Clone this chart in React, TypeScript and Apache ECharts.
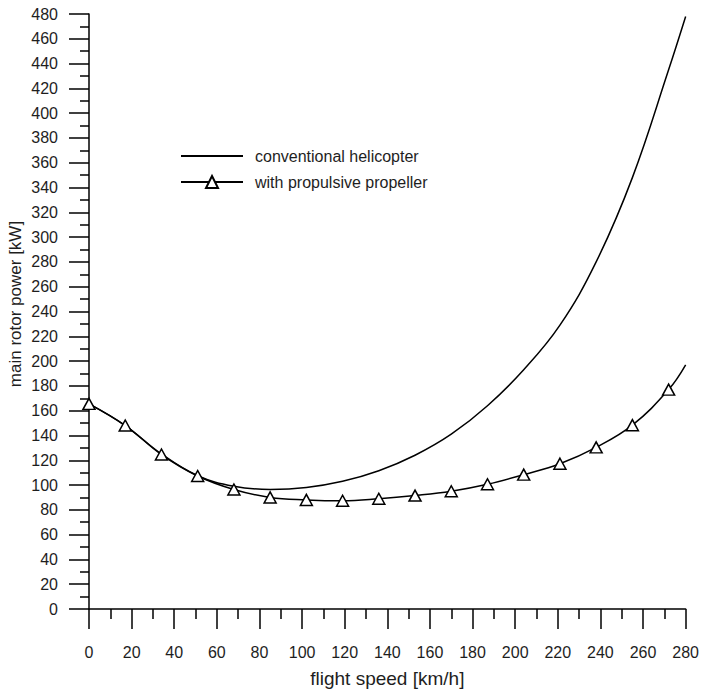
import React, { useEffect, useRef } from "react";
import * as echarts from "echarts";

const speeds = [0, 17, 34, 51, 68, 85, 102, 119, 136, 153, 170, 187, 204, 221, 238, 255, 272, 280];
const conventional = [165.5, 148, 125, 107.5, 99, 96.5, 98, 103, 111.5, 124, 141, 164, 193, 229, 280, 348, 435, 478];
const propeller = [165.5, 148, 124.6, 107.3, 96.4, 90, 88, 87.3, 88.9, 91.5, 95, 100.6, 108.4, 117.2, 130.4, 148.3, 177, 197];
// points where the propeller curve carries no marker
const propellerNoMarker = [280];

const seriesNames = ["conventional helicopter", "with propulsive propeller"];
const xAxisTitle = "flight speed [km/h]";
const yAxisTitle = "main rotor power [kW]";

const FONT = "'Liberation Sans', Arial, Helvetica, sans-serif";
const INK = "#1e1e1e";

export default function App() {
  const ref = useRef<HTMLDivElement>(null);

  useEffect(() => {
    if (!ref.current) return;
    const chart = echarts.init(ref.current, null, { renderer: "svg" });

    const axisCommon = {
      type: "value" as const,
      axisLine: { show: true, lineStyle: { color: "#000", width: 1.5 } },
      axisTick: { show: true, inside: false, length: 20, lineStyle: { color: "#000", width: 1.5 } },
      splitLine: { show: false },
    };
    const labelCommon = { fontSize: 16, color: INK, fontFamily: FONT, showMinLabel: true, showMaxLabel: true };

    chart.setOption({
      animation: false,
      backgroundColor: "#fff",
      textStyle: { fontFamily: FONT },
      grid: { left: 89, right: 14, top: 14, bottom: 78, containLabel: false },
      legend: {
        orient: "vertical",
        left: 175,
        top: 143,
        itemWidth: 62,
        itemHeight: 15,
        itemGap: 10,
        textStyle: { fontSize: 16, color: INK, fontFamily: FONT, padding: [0, 0, 0, 7] },
        data: [
          {
            name: seriesNames[0],
            itemStyle: { color: "rgba(0,0,0,0)", borderColor: "rgba(0,0,0,0)", borderWidth: 0 },
          },
          { name: seriesNames[1] },
        ],
      },
      xAxis: {
        ...axisCommon,
        min: 0,
        max: 280,
        interval: 20,
        minorTick: { show: true, splitNumber: 2, length: 10, lineStyle: { color: "#000", width: 1.5 } },
        axisLabel: { ...labelCommon, margin: 35 },
        name: xAxisTitle,
        nameLocation: "middle",
        nameGap: 60,
        nameTextStyle: { fontSize: 19, color: INK, fontFamily: FONT },
      },
      yAxis: {
        ...axisCommon,
        min: 0,
        max: 480,
        interval: 20,
        minorTick: { show: true, splitNumber: 2, length: 9, lineStyle: { color: "#000", width: 1.5 } },
        axisLabel: { ...labelCommon, margin: 31 },
      },
      graphic: [
        {
          type: "text",
          x: 15,
          y: 304,
          rotation: Math.PI / 2,
          style: {
            text: yAxisTitle,
            fontSize: 17,
            fontFamily: FONT,
            fill: INK,
            align: "center",
            verticalAlign: "middle",
          },
        },
      ],
      series: [
        {
          name: seriesNames[0],
          type: "line",
          smooth: 0.4,
          symbol: "none",
          lineStyle: { color: "#000", width: 1.5 },
          itemStyle: { color: "#000" },
          data: speeds.map((s, i) => [s, conventional[i]]),
          z: 2,
        },
        {
          name: seriesNames[1],
          type: "line",
          smooth: 0.4,
          symbol: "triangle",
          symbolSize: [12, 11],
          showAllSymbol: true,
          lineStyle: { color: "#000", width: 1.5 },
          itemStyle: { color: "#fff", borderColor: "#000", borderWidth: 1.5 },
          data: speeds.map((s, i) =>
            propellerNoMarker.includes(s)
              ? { value: [s, propeller[i]], symbol: "none" }
              : [s, propeller[i]]
          ),
          z: 3,
        },
      ],
    });

    return () => chart.dispose();
  }, []);

  return (
    <div
      ref={ref}
      style={{ position: "absolute", left: 0, top: 0, width: 702, height: 693, background: "#fff" }}
    />
  );
}
